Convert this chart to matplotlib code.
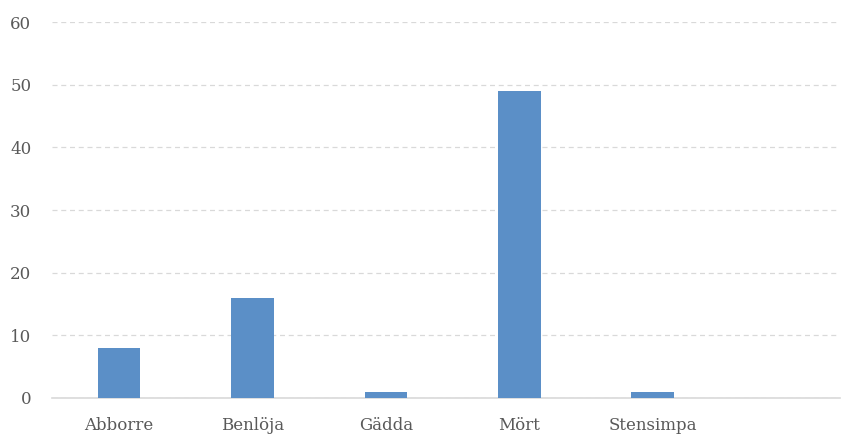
import matplotlib.pyplot as plt

species = ["Abborre", "Benlöja", "Gädda", "Mört", "Stensimpa"]
counts = [8, 16, 1, 49, 1]
y_ticks = [0, 10, 20, 30, 40, 50, 60]

plt.rcParams['font.family'] = ['DejaVu Serif']

fig = plt.figure(figsize=(8.43, 4.34), dpi=100)
ax = fig.add_axes([0.062, 0.083, 0.934, 0.866])

x = list(range(len(species)))
ax.bar(x, counts, width=0.32, color='#5B8FC7', zorder=3)

ax.set_xlim(-0.5, 5.4)
ax.set_ylim(0, 60)
ax.set_xticks(x)
ax.set_xticklabels(species)
ax.set_yticks(y_ticks)

ax.grid(axis='y', color='#D9D9D9', linestyle=(0, (4, 3)), linewidth=0.9, zorder=0)
ax.tick_params(axis='both', length=0, labelsize=12, labelcolor='#595959')
ax.tick_params(axis='x', pad=14)
ax.tick_params(axis='y', pad=15)

for side in ['top', 'right', 'left']:
    ax.spines[side].set_visible(False)
ax.spines['bottom'].set_color('#D9D9D9')
ax.spines['bottom'].set_linewidth(1.2)

fig.savefig("out.png", dpi=100)
